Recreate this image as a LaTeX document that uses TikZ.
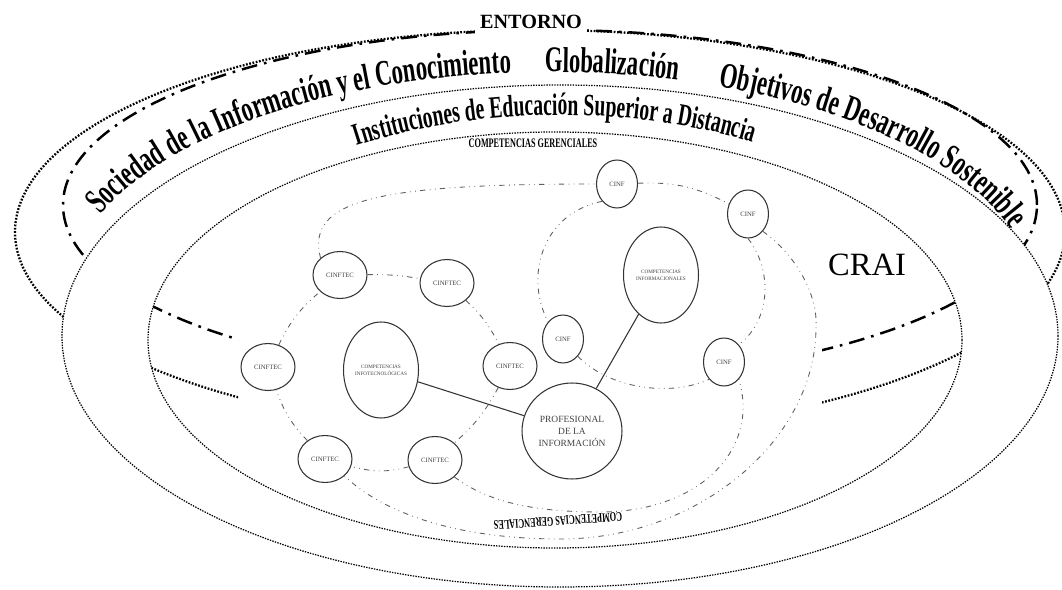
\documentclass[tikz,border=0pt]{standalone}
\usepackage{fontspec}
\setmainfont{Liberation Serif}
\newfontfamily\bandfont[FakeStretch=0.63]{Liberation Serif}
\usetikzlibrary{shapes.geometric, decorations.text}

\definecolor{lazogray}{RGB}{95,95,95}
\newcommand{\bandafont}{\bandfont\bfseries\fontsize{20.5}{20.5}\selectfont}
\newcommand{\bandbfont}{\bandfont\bfseries\fontsize{17.7}{17.7}\selectfont}

\tikzset{
  anillo/.style={line width=0.7pt, dash pattern=on 0.8pt off 0.7pt},
  entorno/.style={line width=1.3pt, dash pattern=on 1pt off 0.9pt},
  sociedad/.style={line width=1.4pt, dash pattern=on 9pt off 4pt on 1.5pt off 4pt},
  lazo/.style={lazogray, line width=0.5pt, dash pattern=on 3pt off 2.5pt on 0.4pt off 2.5pt on 0.4pt off 2.5pt},
  enlace/.style={black!80, line width=0.6pt},
  cinftec/.style={ellipse, draw=black!80, line width=0.6pt, minimum width=1.08cm, minimum height=0.94cm,
    inner sep=0pt, text=black!75, font=\fontsize{3.8}{4.5}\selectfont},
  cinf/.style={cinftec, minimum width=0.82cm, minimum height=0.96cm},
  competencia/.style={cinftec, minimum width=1.5cm, minimum height=1.92cm, align=center,
    font=\fontsize{2.95}{3.8}\selectfont},
  banda/.style={decorate, decoration={text along path, text align=left, text={#1}}},
}

\begin{document}
\begin{tikzpicture}[x=0.02cm, y=0.02cm]
  \useasboundingbox (0,0) rectangle (1062,589);
  \clip (0,0) rectangle (1062,589);

  % rings
  \draw[anillo] (560,253) ellipse [x radius=498, y radius=251];
  \draw[anillo] (555,249) ellipse [x radius=407, y radius=208];

  % entorno + sociedad lines, hidden in the middle band
  \begin{scope}[even odd rule]
    \clip (-20,-20) rectangle (1090,610) (560,253) ellipse [x radius=498, y radius=251];
    \draw[entorno] (540,357) ellipse [x radius=525, y radius=202];
    \draw[sociedad] (550,384) ellipse [x radius=487, y radius=175];
  \end{scope}
  \begin{scope}
    \clip (555,249) ellipse [x radius=407, y radius=208];
    \clip (0,0) rectangle (238,589) (822,0) rectangle (1062,589);
    \draw[entorno] (540,357) ellipse [x radius=525, y radius=202];
    \draw[sociedad] (550,384) ellipse [x radius=487, y radius=175];
  \end{scope}

  \node[fill=white, inner sep=3pt, font=\bfseries\fontsize{11.5}{12}\selectfont] (entornolbl) at (531,567) {ENTORNO};

  % curved titles
  \path[banda={|\bandafont|Sociedad de la Información y el Conocimiento}]
    (550,289) ++(158:485 and 228) arc[start angle=158, end angle=85, x radius=485, y radius=228];
  \path[banda={|\bandafont|Globalización}]
    (550,289) ++(90.6:485 and 228) arc[start angle=90.6, end angle=65, x radius=485, y radius=228];
  \path[banda={|\bandafont|Objetivos de Desarrollo Sostenible}]
    (550,289) ++(69.7:485 and 228) arc[start angle=69.7, end angle=0, x radius=485, y radius=228];
  \path[banda={|\bandbfont|Instituciones de Educación Superior a Distancia}]
    (560,253) ++(120.5:400 and 221) arc[start angle=120.5, end angle=50, x radius=400, y radius=221];

  \node[font=\fontsize{18.5}{19}\selectfont] (crai) at (867,324) {CRAI};
  \node[font=\bandfont\bfseries\fontsize{7.4}{7.4}\selectfont] (gersup) at (533,446) {COMPETENCIAS GERENCIALES};
  \node[font=\bandfont\bfseries\fontsize{7.4}{7.4}\selectfont, rotate=184] (gerinf) at (558,68) {COMPETENCIAS GERENCIALES};

  % competencias
  \node[cinftec] (t1) at (340,314) {CINFTEC};
  \node[cinftec] (t2) at (447,306) {CINFTEC};
  \node[cinftec] (t3) at (268,222) {CINFTEC};
  \node[cinftec] (t4) at (510,223) {CINFTEC};
  \node[cinftec] (t5) at (325,130) {CINFTEC};
  \node[cinftec] (t6) at (435,129) {CINFTEC};
  \node[cinf] (i1) at (617,405) {CINF};
  \node[cinf] (i2) at (748,375) {CINF};
  \node[cinf] (i3) at (563,250) {CINF};
  \node[cinf] (i4) at (724,227) {CINF};
  \node[competencia] (ctec) at (381,219) {COMPETENCIAS\\INFOTECNOLÓGICAS};
  \node[competencia] (cinfo) at (661,314) {COMPETENCIAS\\INFORMACIONALES};
  \node[competencia, minimum width=2cm, font=\fontsize{5.4}{6.8}\selectfont] (prof) at (572,158)
    {PROFESIONAL\\DE LA\\INFORMACIÓN};

  % loops
  \draw[lazo] (t1) to[bend left=5] (t2);
  \draw[lazo] (t2) to[bend left=10] (t4);
  \draw[lazo] (t4) to[bend left=10] (t6);
  \draw[lazo] (t6) to[bend left=15] (t5);
  \draw[lazo] (t5) to[bend left=12] (t3);
  \draw[lazo] (t3) to[bend left=12] (t1);
  \draw[lazo] (t1.north west) .. controls (305,390) and (380,405) .. (i1.west);
  \draw[lazo] (i1) to[bend left=15] (i2);
  \draw[lazo] (i2.south east) .. controls (795,335) and (818,295) .. (816,262)
    .. controls (816,150) and (700,50) .. (560,50)
    .. controls (470,50) and (390,70) .. (t5.south east);
  \draw[lazo] (i2.south) .. controls (772,320) and (772,270) .. (i4.north east);
  \draw[lazo] (t6.south east) .. controls (490,85) and (540,77) .. (600,77)
    .. controls (700,77) and (760,140) .. (i4.south east);
  \draw[lazo] (i1.south west) .. controls (540,375) and (525,310) .. (i3.north west);
  \draw[lazo] (i3.south east) .. controls (610,200) and (670,192) .. (i4.south west);

  \draw[enlace] (ctec) -- (prof);
  \draw[enlace] (cinfo) -- (prof);
\end{tikzpicture}
\end{document}
